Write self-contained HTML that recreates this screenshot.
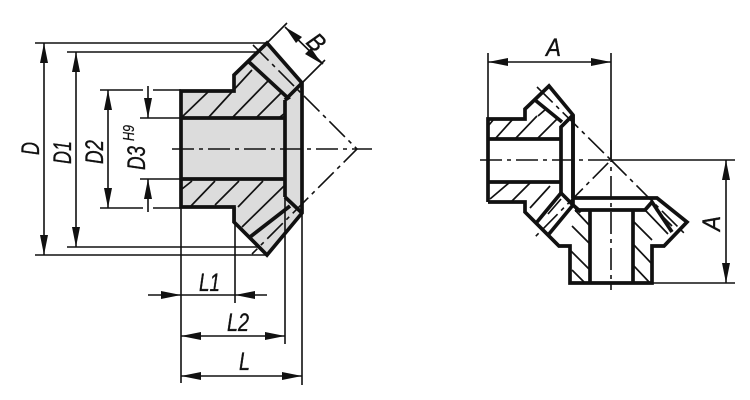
<!DOCTYPE html>
<html><head><meta charset="utf-8">
<style>
html,body{margin:0;padding:0;background:#fff}
svg{display:block}
text{font-family:"Liberation Sans",sans-serif;font-style:italic;fill:#111;stroke:#111;stroke-width:.35;font-size:25px}
.k{stroke:#111;stroke-width:3.7;fill:none;stroke-linejoin:miter}
.t{stroke:#111;stroke-width:1.6;fill:none}
.h{stroke:#111;stroke-width:1.7;fill:none}
.c{stroke:#111;stroke-width:1.6;fill:none;stroke-dasharray:22 5 4 5}
.a{fill:#111;stroke:none}
.g{fill:#dcdcdc;stroke:none}
</style></head><body>
<svg width="750" height="400" viewBox="0 0 750 400" xmlns="http://www.w3.org/2000/svg">
<!-- LEFT gear fill -->
<path class="g" d="M181 91H234V75L267 43L302 83V213L267 255L234 222V207H181Z"/>
<!-- hatches -->
<g class="h">
<path d="M182 117L208 92M208 118L252 70M232 118L268 81M256 118L282 92M280 117L285 113"/>
<path d="M182 189L192 181M190 207L215 181M215 205L239 181M238 207L263 181M242 227L284 186"/>
</g>
<!-- left gear outlines -->
<g class="k">
<path d="M181 91H234V75L267 43L302 83V213L267 255L234 222V207H181Z"/>
<path d="M181 118H285M181 179H285M285 100V197M249 62L288 98L285 100M302 83L285 100M285 197L302 213"/>
<path d="M250 237L290 206"/>
</g>
<!-- centre/cone lines left -->
<path class="c" d="M172 149H372"/>
<path class="c" d="M253 45L357 149L252 254"/>
<!-- dim lines left -->
<g class="t">
<path d="M35 43H267M67 52H258M100 90H143M153 90H181M100 208H143M153 208H181M140 118H181M140 179H181M35 255H267M67 247H258"/>
<path d="M44 43V255M76 52V247M108 90V208M148 86V118M148 179V212"/>
<path d="M181 207V383M235 207V303M285 197V344M302 213V385"/>
<path d="M148 295H267M181 336H285M181 376H302"/>
<path d="M267 43L287 23M302 83L325 60M285 27L323 64"/>
</g>
<!-- arrows left -->
<g class="a">
<path d="M44 43l-4 20h8zM44 255l-4 -20h8zM76 52l-4 20h8zM76 247l-4 -20h8zM108 90l-4 20h8zM108 208l-4 -20h8z"/>
<path d="M148 118l-4 -20h8zM148 179l-4 20h8z"/>
<path d="M181 295l-20 -4v8zM235 295l20 -4v8zM181 336l20 -4v8zM285 336l-20 -4v8zM181 376l20 -4v8zM302 376l-20 -4v8z"/>
<path d="M285 27l17 10 -6 6zM322 64l-17 -10 6 -6z"/>
</g>
<!-- left labels -->
<text x="199" y="291" textLength="21" lengthAdjust="spacingAndGlyphs">L1</text>
<text x="227" y="331" textLength="22" lengthAdjust="spacingAndGlyphs">L2</text>
<text x="239" y="370" textLength="11" lengthAdjust="spacingAndGlyphs">L</text>
<text transform="translate(39 155) rotate(-90)" textLength="13" lengthAdjust="spacingAndGlyphs">D</text>
<text transform="translate(71 164) rotate(-90)" textLength="23" lengthAdjust="spacingAndGlyphs">D1</text>
<text transform="translate(103 164) rotate(-90)" textLength="24" lengthAdjust="spacingAndGlyphs">D2</text>
<text transform="translate(145 170) rotate(-90)" textLength="24" lengthAdjust="spacingAndGlyphs">D3</text>
<text transform="translate(134 141) rotate(-90)" style="font-size:16px;stroke-width:.2" textLength="16" lengthAdjust="spacingAndGlyphs">H9</text>
<text transform="translate(305 43) rotate(45)" textLength="15" lengthAdjust="spacingAndGlyphs">B</text>

<!-- RIGHT drawing -->
<g class="h">
<path d="M489 125L494 119M495 139L513 119M515 139L537 116M537 139L558 118M546 109L538 116"/>
<path d="M490 199L510 182M512 201L531 182M530 208L550 186M548 214L561 199"/>
<path d="M575 210L590 226M572 226L590 244M570 250L590 270M572 270L585 283M633 221L652 240M633 244L652 264M633 265L650 283M645 210L668 234M656 210L672 226"/>
</g>
<g class="k">
<path d="M488 202V119H525V109L549 86L573 115V198"/>
<path d="M535 100L562 122M573 115L561 127V193M488 139H561M488 182H561"/>
<path d="M488 202H525V212L559 246H570V283H652V246H664L687 222L657 198H573"/>
<path d="M573 115V205L549 234M561 193L537 222M590 210V283M633 210V283M575 210H645L652 202L672 232"/>
<path d="M561 193L573 205L581 212"/>
</g>
<!-- right lines -->
<g class="t"><path d="M488 53V118M611 53V160M488 62H611M611 160H735M652 283H735M726 160V283"/></g>
<path class="c" d="M480 160H611"/>
<path class="c" d="M537 87L611 160L535 237"/>
<path class="c" d="M611 160L686 235"/>
<path class="c" d="M611 140V290"/>
<g class="a">
<path d="M488 62l20 -4v8zM611 62l-20 -4v8zM726 160l-4 20h8zM726 283l-4 -20h8z"/>
</g>
<text x="546" y="56" textLength="15" lengthAdjust="spacingAndGlyphs">A</text>
<text transform="translate(720 231) rotate(-90)" textLength="15" lengthAdjust="spacingAndGlyphs">A</text>
</svg>
</body></html>
